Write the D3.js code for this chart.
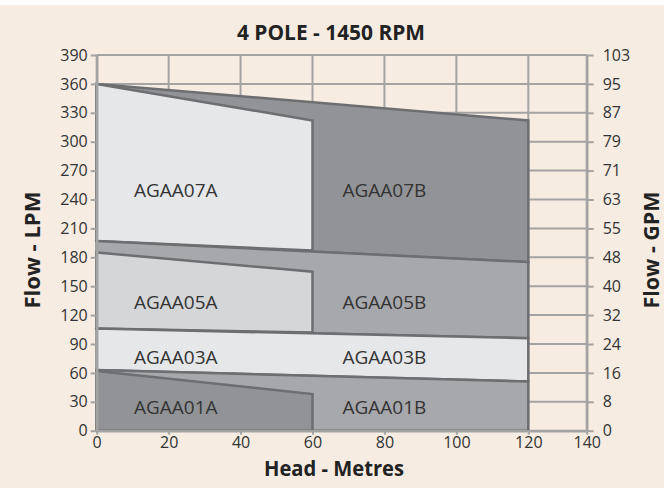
<!DOCTYPE html>
<html><head><meta charset="utf-8">
<script src="https://cdn.jsdelivr.net/npm/d3@7"></script>
<style>html,body{margin:0;padding:0;background:#fff;}svg{display:block;}</style>
</head><body>
<svg id="chart" width="664" height="488"></svg>
<script>
// ---- data ----
const headTicks = [0, 20, 40, 60, 80, 100, 120, 140];
const lpmTicks = [0, 30, 60, 90, 120, 150, 180, 210, 240, 270, 300, 330, 360, 390];
const gpmLabels = ["0", "8", "16", "24", "32", "40", "48", "55", "63", "71", "79", "87", "95", "103"];

const regionNames = ["AGAA07B", "AGAA07A", "AGAA05B", "AGAA05A", "AGAA03", "AGAA01B", "AGAA01A"];
const regionPoints = [
  [[0, 360], [120, 322], [120, 175], [0, 197]],
  [[0, 360], [60, 322], [60, 187], [0, 197]],
  [[0, 197], [120, 175], [120, 96], [0, 106]],
  [[0, 185], [60, 165], [60, 102], [0, 106]],
  [[0, 106], [120, 96], [120, 51], [0, 63]],
  [[0, 63], [120, 51], [120, 0], [0, 0]],
  [[0, 62], [60, 38], [60, 0], [0, 0]]
];
const regionShade = ["dark", "light", "mid", "midlight", "light", "mid", "dark"];

const labelNames = ["AGAA07A", "AGAA07B", "AGAA05A", "AGAA05B", "AGAA03A", "AGAA03B", "AGAA01A", "AGAA01B"];
const labelHead = [22, 80, 22, 80, 22, 80, 22, 80];
const labelFlow = [250, 250, 134, 134, 76, 76, 25, 25];

// ---- drawing ----
const shadeColor = {light: "#e6e7e9", midlight: "#d5d6d8", mid: "#a7a8ab", dark: "#929396"};
const svg = d3.select("#chart");
svg.append("rect").attr("x", 0).attr("y", 5).attr("width", 664).attr("height", 483).attr("fill", "#f6ece2");

const x = d3.scaleLinear().domain([0, 120, 140]).range([96.7, 528.3, 586.7]);
const y = d3.scaleLinear().domain([0, 390]).range([430.7, 55]);
const gridColor = "#a3a3a3";
const font = "'Open Sans', 'Noto Sans', sans-serif";

// grid
svg.append("g").selectAll("line").data(lpmTicks).join("line")
  .attr("x1", x(0)).attr("x2", x(140))
  .attr("y1", d => y(d)).attr("y2", d => y(d))
  .attr("stroke", gridColor).attr("stroke-width", 2);
svg.append("g").selectAll("line").data(headTicks).join("line")
  .attr("x1", d => x(d)).attr("x2", d => x(d))
  .attr("y1", y(0)).attr("y2", y(390))
  .attr("stroke", gridColor).attr("stroke-width", 2);

// regions
const line = d3.line().x(d => x(d[0])).y(d => y(d[1]));
svg.append("g").selectAll("path").data(regionPoints).join("path")
  .attr("d", d => line(d) + "Z")
  .attr("fill", (d, i) => shadeColor[regionShade[i]])
  .attr("stroke", "#6d6e71").attr("stroke-width", 2.5).attr("stroke-linejoin", "miter");

// labels
svg.append("g").selectAll("text").data(labelNames).join("text")
  .attr("x", (d, i) => x(labelHead[i])).attr("y", (d, i) => y(labelFlow[i]))
  .attr("text-anchor", "middle").attr("dominant-baseline", "central")
  .attr("font-family", font).attr("font-size", 19).attr("fill", "#333")
  .text(d => d);

// axes
const axisStyle = g => {
  g.select(".domain").attr("stroke", gridColor).attr("stroke-width", 2.5);
  g.selectAll(".tick line").attr("stroke", gridColor).attr("stroke-width", 2);
  g.selectAll(".tick text").attr("font-family", font).attr("font-size", 16).attr("fill", "#333");
};
svg.append("g").attr("transform", `translate(${x(0)},0)`)
  .call(d3.axisLeft(y).tickValues(lpmTicks).tickSize(6).tickPadding(3).tickSizeOuter(0))
  .call(axisStyle);
svg.append("g").attr("transform", `translate(${x(140)},0)`)
  .call(d3.axisRight(y).tickValues(lpmTicks).tickSize(7).tickPadding(9).tickSizeOuter(0)
    .tickFormat((d, i) => gpmLabels[i]))
  .call(axisStyle);
svg.append("g").attr("transform", `translate(0,${y(0)})`)
  .call(d3.axisBottom(x).tickValues(headTicks).tickSize(4).tickPadding(2).tickSizeOuter(0))
  .call(axisStyle);

// titles
const title = (t, tr, len) => svg.append("text").attr("transform", tr).attr("text-anchor", "middle")
  .attr("font-family", font).attr("font-weight", "bold").attr("font-size", 21).attr("fill", "#222")
  .attr("textLength", len).attr("lengthAdjust", "spacingAndGlyphs").text(t);
title("4 POLE - 1450 RPM", "translate(331,40)", 188);
title("Head - Metres", "translate(334,476)", 140);
title("Flow - LPM", "translate(40,250) rotate(-90)", 117);
title("Flow - GPM", "translate(659,250) rotate(-90)", 117);
</script>
</body></html>
